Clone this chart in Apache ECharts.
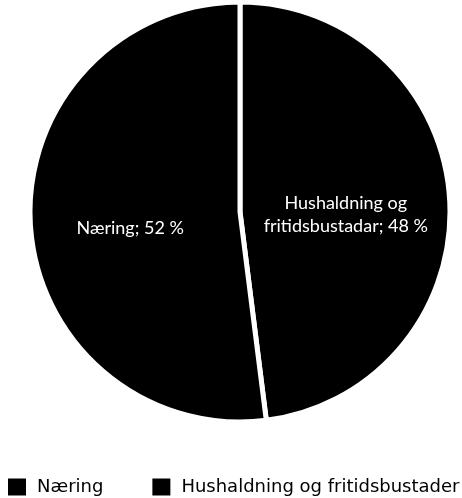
<!DOCTYPE html>
<html>
<head>
<meta charset="utf-8">
<style>
  html, body { margin: 0; padding: 0; background: #fff; }
  #chart { width: 462px; height: 498px; }
</style>
<script src="https://cdn.jsdelivr.net/npm/echarts@6/dist/echarts.min.js"></script>
</head>
<body>
<div id="chart"></div>
<script>
// data
var categories = ['Hushaldning og fritidsbustader', 'Næring']
var values = [48, 52]
var sliceLabels = ['Hushaldning og\nfritidsbustadar', 'Næring']
var legendOrder = ['Næring', 'Hushaldning og fritidsbustader']

var chart = echarts.init(document.getElementById('chart'))

chart.setOption({
  animation: false,
  color: ['#000000', '#000000'],
  legend: {
    data: legendOrder,
    left: 8,
    top: 478,
    width: 500,
    padding: 0,
    icon: 'rect',
    itemWidth: 18,
    itemHeight: 17,
    itemGap: 49,
    itemStyle: { borderWidth: 0 },
    textStyle: {
      fontFamily: 'DejaVu Sans',
      fontSize: 18,
      color: '#000',
      padding: [0, 0, 0, 6]
    }
  },
  series: [{
    type: 'pie',
    center: [240, 212],
    radius: 210,
    startAngle: 90,
    clockwise: true,
    itemStyle: {
      borderColor: '#fff',
      borderWidth: 5
    },
    label: {
      position: 'inside',
      color: '#fff',
      fontFamily: 'Lato',
      fontSize: 18,
      lineHeight: 23,
      offset: [-2, 9],
      formatter: function (p) {
        return sliceLabels[p.dataIndex] + '; ' + p.value + ' %'
      }
    },
    labelLine: { show: false },
    emphasis: { disabled: true },
    data: categories.map(function (name, i) {
      return { name: name, value: values[i] }
    })
  }]
})
</script>
</body>
</html>
